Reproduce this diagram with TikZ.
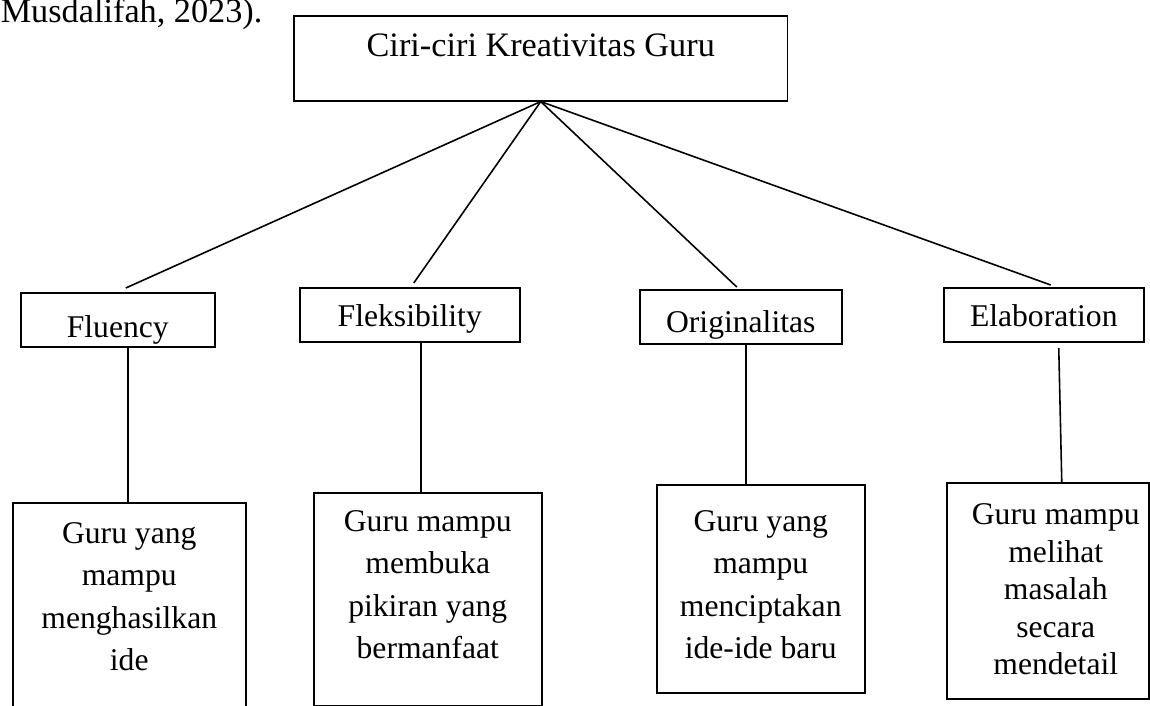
\documentclass[tikz,border=0pt]{standalone}
\usepackage{fontspec}
\setmainfont{Liberation Serif}
\usetikzlibrary{calc}

\tikzset{
	kotak/.style={draw, line width=0.9pt, inner sep=0pt, anchor=north west},
	ciri/.style={kotak, text height=0.78cm, text depth=0.31cm, font=\fontsize{18}{22}\selectfont},
	isi/.style={align=center, inner sep=0pt, anchor=north, font=\fontsize{18}{24}\selectfont},
}

\begin{document}
\begin{tikzpicture}[x=0.02cm, y=-0.02cm, line width=0.9pt]
	\useasboundingbox (0,0) rectangle (1150,706);

	\node[anchor=base west, inner sep=0pt, font=\fontsize{19.5}{24}\selectfont] (sumber) at (0,23) {Musdalifah, 2023).};

	\node[kotak, minimum width=9.88cm, text height=0.82cm, text depth=0.88cm, font=\fontsize{19.5}{24}\selectfont] (judul) at (293,15) {Ciri-ciri Kreativitas Guru};

	\node[ciri, minimum width=3.88cm, text height=0.9cm, text depth=0.18cm] (fluency) at (20,292) {Fluency};
	\node[ciri, minimum width=4.4cm] (fleks) at (299,287) {Fleksibility};
	\node[ciri, minimum width=4.04cm, text height=0.86cm, text depth=0.22cm] (orig) at (639,289) {Originalitas};
	\node[ciri, minimum width=4.0cm] (elab) at (943,287) {Elaboration};

	\node[kotak, minimum width=4.66cm, minimum height=4.36cm] (d1) at (12,502) {};
	\node[kotak, minimum width=4.56cm, minimum height=4.26cm] (d2) at (313,492) {};
	\node[kotak, minimum width=4.16cm, minimum height=4.16cm] (d3) at (656,484) {};
	\node[kotak, minimum width=4.04cm, minimum height=4.32cm] (d4) at (946,482) {};

	\node[isi] (t1) at ([yshift=-0.4cm]d1.north) {Guru yang\\mampu\\menghasilkan\\ide};
	\node[isi] (t2) at ([yshift=-0.36cm]d2.north) {Guru mampu\\membuka\\pikiran yang\\bermanfaat};
	\node[isi] (t3) at ([yshift=-0.52cm]d3.north) {Guru yang\\mampu\\menciptakan\\ide-ide baru};
	\node[isi, font=\fontsize{18}{21.3}\selectfont] (t4) at ([xshift=0.16cm,yshift=-0.42cm]d4.north) {Guru mampu\\melihat\\masalah\\secara\\mendetail};

	\draw (judul.south) -- ([xshift=0.16cm,yshift=0.08cm]fluency.north);
	\draw (judul.south) -- ([xshift=0.08cm,yshift=0.08cm]fleks.north);
	\draw (judul.south) -- ([xshift=-0.08cm,yshift=0.04cm]orig.north);
	\draw (judul.south) -- ([xshift=0.14cm,yshift=0.04cm]elab.north);

	\draw ([xshift=0.2cm]fluency.south) -- ([xshift=0.2cm]fluency.south |- d1.north);
	\draw ([xshift=0.22cm]fleks.south) -- ([xshift=0.22cm]fleks.south |- d2.north);
	\draw ([xshift=0.1cm]orig.south) -- ([xshift=0.1cm]orig.south |- d3.north);
	\draw ([xshift=0.3cm,yshift=-0.1cm]elab.south) -- ([xshift=0.36cm]elab.south |- d4.north);
\end{tikzpicture}
\end{document}
